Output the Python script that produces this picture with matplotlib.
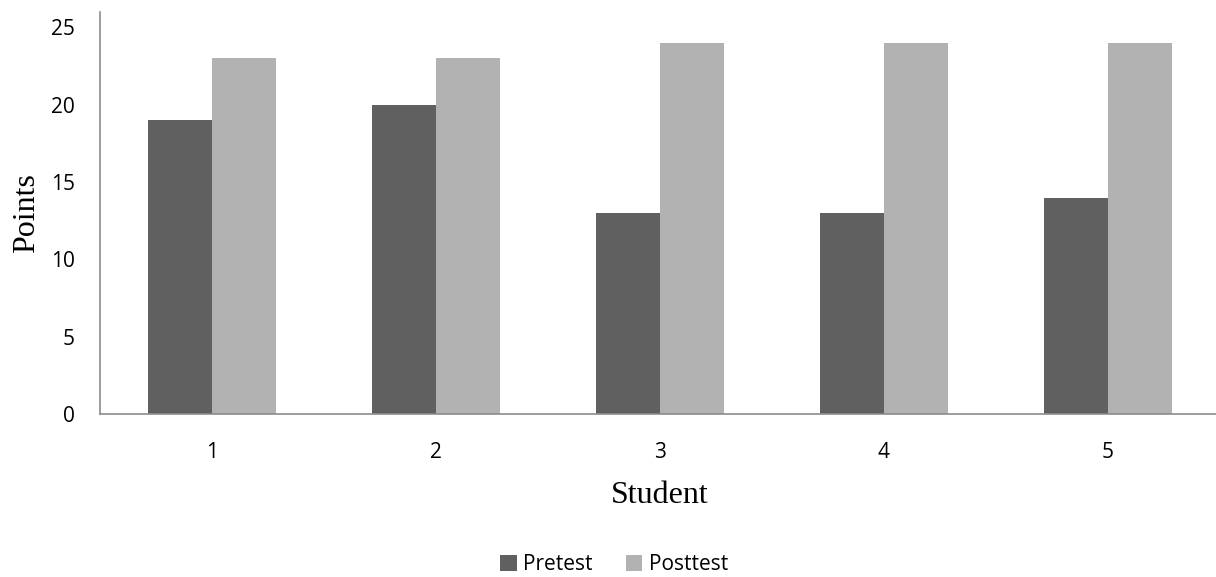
import numpy as np
import matplotlib.pyplot as plt

students = ['1', '2', '3', '4', '5']
pretest = [19, 20, 13, 13, 14]
posttest = [23, 23, 24, 24, 24]

fig = plt.figure(figsize=(12.16, 5.77), dpi=100)
ax = fig.add_axes([100 / 1216, 1 - 414 / 577, 1120 / 1216, 402 / 577])

x = np.arange(1, len(students) + 1)
w = 0.286
ax.bar(x - w / 2, pretest, w, color='#606060', label='Pretest')
ax.bar(x + w / 2, posttest, w, color='#b2b2b2', label='Posttest')

ax.set_xlim(0.5, 5.5)
ax.set_ylim(0, 26)
ax.set_yticks([0, 5, 10, 15, 20, 25])
ax.set_xticks(x)
ax.set_xticklabels(students)

for lab in ax.get_xticklabels() + ax.get_yticklabels():
    lab.set_fontfamily('Open Sans')
    lab.set_fontsize(15)
ax.tick_params(axis='both', length=0)
ax.tick_params(axis='y', pad=18)
ax.tick_params(axis='x', pad=20)

for s in ['top', 'right']:
    ax.spines[s].set_visible(False)
for s in ['left', 'bottom']:
    ax.spines[s].set_color('#8c8c8c')
    ax.spines[s].set_linewidth(1.2)

ax.set_ylabel('Points', family='Liberation Serif', fontsize=23, labelpad=7)
ax.set_xlabel('Student', family='Liberation Serif', fontsize=23, labelpad=13)

fig.legend(loc='center', bbox_to_anchor=(614 / 1216, 1 - 565 / 577), ncol=2,
           frameon=False, prop={'family': 'Open Sans', 'size': 15},
           handlelength=0.8, handleheight=0.8, handletextpad=0.3, columnspacing=1.6)

fig.savefig('out.png', dpi=100)
